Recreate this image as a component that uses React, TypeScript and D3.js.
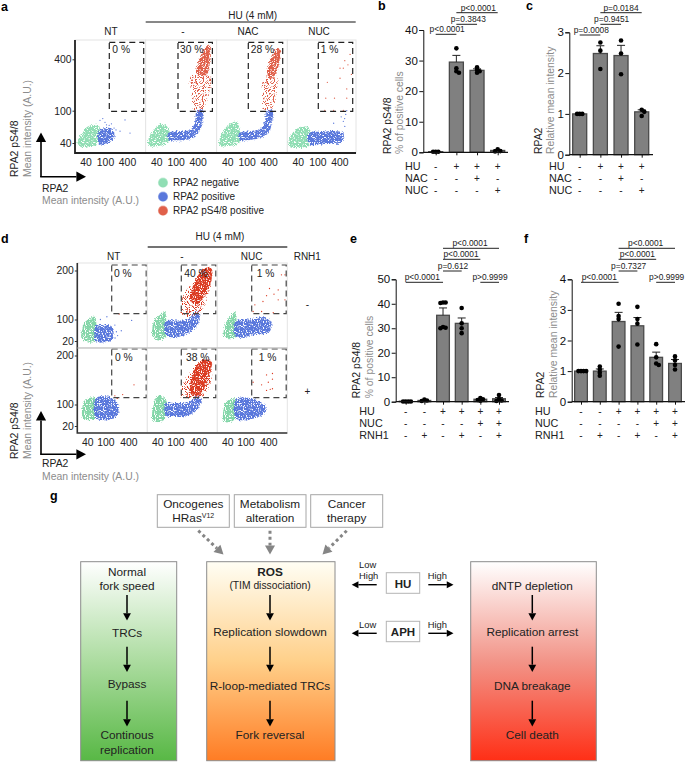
import React, { useRef, useEffect } from 'react';
import * as d3 from 'd3';

type Pt = [number, number];

// ---------- flow panels: outlines of the clouds and single events, read in A.U. ----------
const xTicks = [40, 100, 400];
const aYTicks = [40, 100, 400];
const dYTicks = [20, 100, 200];

const aNtNeg: Pt[] = [[28.5,38],[27,42],[34,52],[43,63],[68,67],[76,65],[76,39],[47,36.5],[33,35.5]];
const aNtPos: Pt[] = [[76,56],[100,61],[145,61],[177,55],[165,44],[100,39],[76,39]];
const aNtPosDots: Pt[] = [[79,76],[100,72],[177,61],[258,56],[353,77],[484,53],[188,48],[110,67],[150,69],[90,80],[200,58],[130,66]];

const aHuNeg: Pt[] = [[27,39],[28.5,46],[39,61],[51,69],[71,61],[71,41],[43,36.5],[30,36.5]];
const aHuPos: Pt[] = [[71,53],[106,56],[245,58],[335,70],[378,100],[565,100],[540,70],[418,53],[310,46],[160,43.5],[71,44.5]];
const aHuRed: Pt[] = [[378,315],[515,460],[790,607],[910,553],[880,385],[710,266],[378,272]];
const aHuRedThin: Pt[] = [[275,250],[960,250],[790,145],[565,101],[335,101],[290,160]];

const aNacNeg: Pt[] = [[27,40],[31,52],[43,67],[62,73],[71,61],[71,40],[39,36.5],[28,36.5]];
const aNacPos: Pt[] = [[71,53],[125,56],[232,59],[315,74],[353,100],[515,100],[484,70],[400,53],[258,47],[125,43.5],[71,44.5]];
const aNacRed: Pt[] = [[378,303],[484,430],[710,553],[860,528],[790,370],[610,266],[400,230]];
const aNacRedThin: Pt[] = [[315,230],[710,240],[640,145],[484,101],[315,101],[280,145]];

const aNucNeg: Pt[] = [[25.5,41],[31,53],[45,63],[68,61.5],[68,37],[40,34.6],[28,36]];
const aNucPos: Pt[] = [[68,53],[137,55],[353,56],[515,53],[484,41],[188,39],[68,39]];
const aNucPosDots: Pt[] = [[640,100],[515,74],[450,84],[565,64],[280,70],[600,90],[560,80]];
const aNucRedDots: Pt[] = [[790,460],[565,385],[418,315],[515,315],[690,345],[860,266],[418,240],[188,215],[640,180],[170,140],[295,140],[640,140],[515,101],[280,101],[160,101]];

const dNtNeg: Pt[] = [[30,40],[36,85],[60,104],[62,100],[62,20],[42,18],[30,24]];
const dNtPos: Pt[] = [[62,66],[90,70],[147,59],[165,40],[147,21],[90,18],[62,20]];
const dNtPosDots: Pt[] = [[195,40],[262,43],[490,93],[178,66],[110,104],[78,100],[210,30],[180,25]];
const dNtRedDots: Pt[] = [[230,108]];

const dHuNeg: Pt[] = [[30.5,40],[35,93],[60,111],[62,104],[62,27],[46,21],[32,27]];
const dHuPos: Pt[] = [[62,93],[110,93],[218,100],[325,111],[430,111],[420,85],[255,40],[120,27],[62,31]];
const dHuRed: Pt[] = [[267,152],[360,180],[565,206],[890,205],[890,175],[565,140],[360,123],[240,132]];
const dHuRedThin: Pt[] = [[155,108],[178,143],[360,170],[890,175],[730,143],[430,108]];

const dNucNeg: Pt[] = [[33,36],[38.5,85],[60,111],[62,107],[62,27],[46,23],[35,27]];
const dNucPos: Pt[] = [[62,93],[120,100],[360,103],[490,74],[430,40],[155,31],[62,27]];
const dNucRedDots: Pt[] = [[890,188],[1100,188],[730,152],[430,155],[565,143],[360,140],[290,129],[730,132],[178,123],[160,112],[267,112],[540,110],[1100,132]];

const dRnhNtNeg: Pt[] = [[30.5,46],[33,102],[42,109],[62,109],[62,37],[42,31],[32,36]];
const dRnhNtPos: Pt[] = [[62,109],[110,112],[178,107],[232,74],[195,40],[110,31],[62,37]];
const dRnhNtRedDots: Pt[] = [[565,132],[285,115],[178,113],[205,109]];

const dRnhHuNeg: Pt[] = [[30.5,46],[35,104],[42,113],[62,107],[62,40],[46,27],[32,31]];
const dRnhHuPos: Pt[] = [[62,102],[110,102],[240,104],[360,113],[490,109],[430,85],[240,46],[120,40],[62,44]];
const dRnhHuRed: Pt[] = [[240,125],[320,165],[540,188],[890,183],[790,155],[565,125],[360,112],[260,115]];
const dRnhHuRedThin: Pt[] = [[147,112],[193,143],[360,170],[830,188],[890,140],[515,112]];

const dRnhNucNeg: Pt[] = [[32,46],[38.5,104],[60,109],[62,107],[62,36],[42,26],[33,31]];
const dRnhNucPos: Pt[] = [[62,107],[118,110],[240,104],[360,74],[290,46],[110,31],[62,36]];
const dRnhNucRedDots: Pt[] = [[515,155],[360,152],[515,143],[400,137],[267,132],[515,125],[450,124],[360,122],[160,137]];

const aPercents = ['0 %', '30 %', '28 %', '1 %'];
const dPercentsTop = ['0 %', '40 %', '1 %'];
const dPercentsBottom = ['0 %', '38 %', '1 %'];
const aConditions = ['NT', '-', 'NAC', 'NUC'];
const dConditions = ['NT', '-', 'NUC'];
const legendLabels = ['RPA2 negative', 'RPA2 positive', 'RPA2 pS4/8 positive'];

// ---------- bar panels ----------
const bMeans = [0.2, 29.5, 26.8, 0.6];
const bSem = [0.1, 2.2, 0.5, 0.3];
const bDots = [[0.2, 0.2, 0.2], [34, 27.5, 26.5, 26], [27.8, 27, 26.5, 26], [1, 0.4, 0.3]];
const bSigns = [['HU', '-', '+', '+', '+'], ['NAC', '-', '-', '+', '-'], ['NUC', '-', '-', '-', '+']];
const bP = ['p<0.0001', 'p=0.3843', 'p<0.0001'];

const cMeans = [1, 2.48, 2.43, 1.05];
const cSem = [0.01, 0.19, 0.25, 0.05];
const cDots = [[1, 1, 1], [2.75, 2.55, 2.1], [2.8, 2.48, 1.97], [1.1, 1.05, 0.95]];
const cP = ['p=0.0008', 'p=0.9451', 'p=0.0184'];

const eMeans = [0.2, 0.5, 35.3, 32, 1, 1.2];
const eSem = [0.05, 0.2, 3, 2.2, 0.3, 0.5];
const eDots = [[0.1, 0.1, 0.1, 0.1], [0.9, 0.5, 0.3], [40.5, 40.5, 40.3, 30.5, 30.2, 30], [38.3, 32, 30, 28], [1.5, 1, 0.7, 0.4], [2.7, 1, 0.5, 0.3]];
const eSigns = [['HU', '-', '-', '+', '+', '+', '+'], ['NUC', '-', '-', '-', '-', '+', '+'], ['RNH1', '-', '+', '-', '+', '-', '+']];
const eP = ['p<0.0001', 'p=0.612', 'p<0.0001', 'p<0.0001', 'p>0.9999'];

const fMeans = [1, 1, 2.62, 2.48, 1.45, 1.25];
const fSem = [0.01, 0.07, 0.3, 0.27, 0.17, 0.13];
const fDots = [[1, 1, 1, 1], [1.15, 1.05, 0.95, 0.85], [3.2, 2.8, 2.7, 1.8], [3.1, 2.7, 2.55, 1.87], [1.88, 1.45, 1.25, 1.2], [1.48, 1.35, 1.2, 1.05]];
const fP = ['p<0.0001', 'p=0.7327', 'p<0.0001', 'p<0.0001', 'p>0.9999'];

const FONT = '"Liberation Sans", Arial, sans-serif';
const DARK = '#222';
const GREY = '#8c8c8c';
const NEG = '#90deb4';
const POS = '#5a78dc';
const RED_A = '#e0604a';
const RED_D = '#db3b22';

const App = () => {
  const svgRef = useRef<SVGSVGElement>(null);

  useEffect(() => {
    const svg = d3.select(svgRef.current);
    svg.selectAll('*').remove();
    const defs = svg.append('defs');

    // grain for the cloud fills, so they read as dots and not as flat shapes
    const grain = (id: string, gain: number, offset: number) => {
      const f = defs.append('filter').attr('id', id)
        .attr('x', '-25%').attr('y', '-25%').attr('width', '150%').attr('height', '150%')
        .attr('color-interpolation-filters', 'sRGB');
      f.append('feTurbulence').attr('type', 'fractalNoise').attr('baseFrequency', 0.85)
        .attr('numOctaves', 2).attr('seed', 4).attr('result', 'n');
      f.append('feDisplacementMap').attr('in', 'SourceGraphic').attr('in2', 'n')
        .attr('scale', 5).attr('xChannelSelector', 'R').attr('yChannelSelector', 'G').attr('result', 'd');
      f.append('feColorMatrix').attr('in', 'n').attr('type', 'matrix')
        .attr('values', `0 0 0 0 0  0 0 0 0 0  0 0 0 0 0  ${gain} 0 0 0 ${offset}`).attr('result', 'm');
      f.append('feComposite').attr('in', 'd').attr('in2', 'm').attr('operator', 'in').attr('result', 'c');
      f.append('feGaussianBlur').attr('in', 'c').attr('stdDeviation', 0.35);
    };
    grain('dense', 7, -2.2);
    grain('thin', 14, -7.4);

    const gradient = (id: string, stops: string[]) => {
      const g = defs.append('linearGradient').attr('id', id).attr('x1', 0).attr('y1', 0).attr('x2', 0).attr('y2', 1);
      stops.forEach((c, i) => g.append('stop').attr('offset', `${(i / (stops.length - 1)) * 100}%`).attr('stop-color', c));
    };
    gradient('gGreen', ['#ffffff', '#acdca0', '#58b845']);
    gradient('gOrange', ['#fffef4', '#ffd08a', '#ff7c24']);
    gradient('gRed', ['#ffffff', '#f29488', '#ff2f16']);

    const text = (sel: any, x: number, y: number, s: string, o: any = {}) =>
      sel.append('text').attr('x', x).attr('y', y)
        .attr('font-family', FONT).attr('font-size', o.size ?? 10)
        .attr('font-weight', o.bold ? 700 : 400)
        .attr('fill', o.fill ?? DARK)
        .attr('text-anchor', o.anchor ?? 'start')
        .text(s);

    const vText = (x: number, y: number, s: string, fill = DARK) =>
      svg.append('text').attr('transform', `translate(${x},${y}) rotate(-90)`)
        .attr('font-family', FONT).attr('font-size', 10.4).attr('fill', fill).text(s);

    const arrow = (x1: number, y1: number, x2: number, y2: number, w = 1.5, head = 5) => {
      const a = Math.atan2(y2 - y1, x2 - x1);
      const bx = x2 - Math.cos(a) * head * 1.6;
      const by = y2 - Math.sin(a) * head * 1.6;
      svg.append('line').attr('x1', x1).attr('y1', y1).attr('x2', bx).attr('y2', by)
        .attr('stroke', 'black').attr('stroke-width', w);
      const nx = -Math.sin(a) * head * 0.85;
      const ny = Math.cos(a) * head * 0.85;
      svg.append('path').attr('d', `M${x2},${y2}L${bx + nx},${by + ny}L${bx - nx},${by - ny}Z`).attr('fill', 'black');
    };

    ['a', 'b', 'c', 'd', 'e', 'f', 'g'].forEach((l, i) => {
      const pos = [[1, 11], [378, 10], [526, 10], [1, 243], [350, 243], [524, 243], [50, 500]][i];
      text(svg, pos[0], pos[1], l, { size: 12.5, bold: true, fill: '#000' });
    });

    // ---------- flow cytometry panels ----------
    const cloudLine = (x: any, y: any) =>
      d3.line<Pt>().x((d) => x(d[0])).y((d) => y(d[1])).curve(d3.curveCatmullRomClosed.alpha(0.5));

    const flowPanel = (px: number, py: number, w: number, h: number, x: any, y: any, o: any) => {
      const g = svg.append('g').attr('transform', `translate(${px},${py})`);
      const frameY = o.frameY ?? 0;
      g.append('rect').attr('y', frameY).attr('width', w).attr('height', h - frameY).attr('fill', 'white')
        .attr('stroke', '#e4e4e4').attr('stroke-width', 1);
      const line = cloudLine(x, y);
      const cloud = (pts: Pt[], color: string, f: string) =>
        g.append('path').attr('d', line(pts)).attr('fill', color).attr('filter', `url(#${f})`);
      const dots = (pts: Pt[], color: string) =>
        g.selectAll(null).data(pts).enter().append('circle')
          .attr('cx', (d: Pt) => x(d[0])).attr('cy', (d: Pt) => y(d[1])).attr('r', 0.65).attr('fill', color);
      cloud(o.neg, o.negColor ?? NEG, 'dense');
      cloud(o.pos, POS, 'dense');
      if (o.posDots) dots(o.posDots, POS);
      if (o.redThin) cloud(o.redThin, o.red, 'thin');
      if (o.redCloud) cloud(o.redCloud, o.red, 'dense');
      if (o.redDots) dots(o.redDots, o.red);
      g.append('rect').attr('x', o.gate[0]).attr('y', o.gate[1]).attr('width', o.gate[2]).attr('height', o.gate[3])
        .attr('fill', 'none').attr('stroke', o.gateColor).attr('stroke-width', 1.2).attr('stroke-dasharray', '6,4');
      text(g, o.pctX, o.pctY, o.pct, { size: 10.3 });
      return g;
    };

    const xAxis = (px: number, py: number, x: any) => {
      const g = svg.append('g').attr('transform', `translate(${px},${py})`)
        .call(d3.axisBottom(x).tickValues(xTicks).tickSize(0).tickPadding(6).tickFormat((d: any) => String(d)) as any);
      g.select('.domain').remove();
      g.selectAll('text').attr('font-family', FONT).attr('font-size', 10.4).attr('fill', DARK);
    };
    const yAxis = (px: number, py: number, y: any, ticks: number[]) => {
      const g = svg.append('g').attr('transform', `translate(${px},${py})`)
        .call(d3.axisLeft(y).tickValues(ticks).tickSize(2.5).tickPadding(1).tickFormat((d: any) => String(d)) as any);
      g.select('.domain').remove();
      g.selectAll('line').attr('stroke', '#333');
      g.selectAll('text').attr('font-family', FONT).attr('font-size', 10.4).attr('fill', DARK);
    };

    // panel a
    const aX = d3.scaleLog().domain([24, 40, 100, 400, 1250]).range([0, 10.5, 30, 52, 70]);
    const aY = d3.scaleLog().domain([30, 40, 100, 400, 697]).range([153, 143, 110.7, 59.3, 40]);
    const aStarts = [75, 145.67, 216.67, 287.33];
    const aOpts = [
      { neg: aNtNeg, pos: aNtPos, posDots: aNtPosDots },
      { neg: aHuNeg, pos: aHuPos, redCloud: aHuRed, redThin: aHuRedThin },
      { neg: aNacNeg, pos: aNacPos, redCloud: aNacRed, redThin: aNacRedThin },
      { neg: aNucNeg, pos: aNucPos, posDots: aNucPosDots, redDots: aNucRedDots },
    ];
    const aPctX = [112.3, 180, 250.7, 320.7];
    const aGateX = [109.3, 178, 248.3, 318.3];
    aOpts.forEach((o, i) => {
      flowPanel(aStarts[i], 0, i === 3 ? 68.7 : aStarts[i + 1] - aStarts[i], 153, aX, aY, {
        ...o,
        frameY: 40,
        red: RED_A,
        gate: [aGateX[i] - aStarts[i], 42.3, 34.4, 69],
        gateColor: '#222',
        pct: aPercents[i],
        pctX: aPctX[i] - aStarts[i],
        pctY: 53,
      });
      xAxis(aStarts[i], 153, aX);
      text(svg, [111, 183, 248, 319][i], 35, aConditions[i], { anchor: 'middle', size: 10 });
    });
    yAxis(75, 0, aY, aYTicks);
    svg.append('path').attr('d', 'M75,40V153H356').attr('fill', 'none').attr('stroke', '#222').attr('stroke-width', 1.8);
    svg.append('line').attr('x1', 145.7).attr('x2', 355.7).attr('y1', 22).attr('y2', 22).attr('stroke', '#111').attr('stroke-width', 1);
    text(svg, 252.7, 18.5, 'HU (4 mM)', { anchor: 'middle', size: 10 });

    arrow(41, 177, 41, 132.5, 1.6, 6);
    arrow(40.2, 176.7, 86, 176.7, 1.6, 6);
    vText(18, 177, 'RPA2 pS4/8');
    vText(30.5, 177, 'Mean intensity (A.U.)', GREY);
    text(svg, 42, 192, 'RPA2', { size: 10.4 });
    text(svg, 42, 204, 'Mean intensity (A.U.)', { size: 10.4, fill: GREY });

    legendLabels.forEach((l, i) => {
      const c = [NEG, POS, RED_A][i];
      svg.append('circle').attr('cx', 163).attr('cy', 182.7 + i * 14).attr('r', 4.5).attr('fill', c)
        .attr('stroke', c).attr('stroke-opacity', 0.5).attr('stroke-width', 1.2);
      text(svg, 173, 186.3 + i * 14, l, { size: 10 });
    });

    // panel d
    const dX = d3.scaleLog().domain([24, 40, 100, 400, 1268]).range([0, 10, 28, 51, 70]);
    const dY = d3.scaleLog().domain([12, 20, 100, 200, 222]).range([85, 78, 56.5, 7.5, 0]);
    const dStarts = [77.3, 147.3, 217.3];
    const dGateX = [111.7, 181.3, 251.7];
    const dRows = [
      { top: 263, pct: dPercentsTop, pctY: 276.7, gateY: 265, pctX: [114, 184.3, 256.7], panels: [
        { neg: dNtNeg, pos: dNtPos, posDots: dNtPosDots, redDots: dNtRedDots },
        { neg: dHuNeg, pos: dHuPos, redCloud: dHuRed, redThin: dHuRedThin },
        { neg: dNucNeg, pos: dNucPos, redDots: dNucRedDots },
      ] },
      { top: 348, pct: dPercentsBottom, pctY: 361, gateY: 349, pctX: [115, 186, 258.7], panels: [
        { neg: dRnhNtNeg, pos: dRnhNtPos, redDots: dRnhNtRedDots },
        { neg: dRnhHuNeg, pos: dRnhHuPos, redCloud: dRnhHuRed, redThin: dRnhHuRedThin },
        { neg: dRnhNucNeg, pos: dRnhNucPos, redDots: dRnhNucRedDots },
      ] },
    ];
    dRows.forEach((row) => {
      row.panels.forEach((o, i) => {
        flowPanel(dStarts[i], row.top, 70, 85, dX, dY, {
          ...o,
          negColor: '#83d6a8',
          red: RED_D,
          gate: [dGateX[i] - dStarts[i], row.gateY - row.top, 34.5, 48.7],
          gateColor: '#444',
          pct: row.pct[i],
          pctX: row.pctX[i] - dStarts[i],
          pctY: row.pctY - row.top,
        });
      });
      yAxis(77.3, row.top, dY, dYTicks);
    });
    dStarts.forEach((s, i) => {
      xAxis(s, 433, dX);
      text(svg, [113.7, 182, 251.7][i], 260, dConditions[i], { anchor: 'middle', size: 10 });
    });
    svg.append('path').attr('d', 'M77.3,263V433H287.3').attr('fill', 'none').attr('stroke', '#333').attr('stroke-width', 1.6);
    svg.append('line').attr('x1', 77.3).attr('x2', 287.3).attr('y1', 348).attr('y2', 348).attr('stroke', '#bbb').attr('stroke-width', 1);
    svg.append('line').attr('x1', 147.7).attr('x2', 287.3).attr('y1', 247).attr('y2', 247).attr('stroke', '#444').attr('stroke-width', 1.4);
    text(svg, 220, 240.3, 'HU (4 mM)', { anchor: 'middle', size: 10 });
    text(svg, 307.3, 260, 'RNH1', { anchor: 'middle', size: 10 });
    text(svg, 307.3, 308, '-', { anchor: 'middle', size: 10 });
    text(svg, 307.3, 395, '+', { anchor: 'middle', size: 10 });

    arrow(41, 454.5, 41, 411, 1.6, 6);
    arrow(40.2, 454.3, 86, 454.3, 1.6, 6);
    vText(18, 459, 'RPA2 pS4/8');
    vText(30.7, 459, 'Mean intensity (A.U.)', GREY);
    text(svg, 42, 467, 'RPA2', { size: 10.4 });
    text(svg, 42, 480, 'Mean intensity (A.U.)', { size: 10.4, fill: GREY });

    // ---------- bar panels ----------
    const barPanel = (o: any) => {
      const n = o.means.length;
      const x = d3.scalePoint<number>().domain(d3.range(n)).range(o.xRange);
      const y = d3.scaleLinear().domain([0, o.max]).range([o.y0, o.y1]);
      const g = svg.append('g');

      g.selectAll('rect').data(o.means).enter().append('rect')
        .attr('x', (_: any, i: number) => x(i)! - o.barW / 2)
        .attr('y', (d: number) => y(d))
        .attr('width', o.barW)
        .attr('height', (d: number) => Math.max(0, o.y0 - y(d)))
        .attr('fill', '#808080').attr('stroke', '#4a4a4a').attr('stroke-width', 1.3);

      o.means.forEach((m: number, i: number) => {
        const top = y(m + o.sem[i]);
        const cx = x(i)!;
        g.append('path').attr('d', `M${cx},${y(m)}V${top}M${cx - 4},${top}H${cx + 4}`)
          .attr('stroke', '#222').attr('stroke-width', 1).attr('fill', 'none');
        // spread dots sideways when they would sit on each other
        const placed: Pt[] = [];
        o.dots[i].forEach((v: number) => {
          const cy = y(v);
          const shift = [0, 2.6, -2.6, 5.2, -5.2, 7.8, -7.8].find((s) =>
            placed.every((p) => Math.hypot(p[0] - s, p[1] - cy) > 2.4)) ?? 0;
          placed.push([shift, cy]);
          g.append('circle').attr('cx', cx + shift).attr('cy', cy).attr('r', 2.3).attr('fill', '#000');
        });
      });

      const ya = g.append('g').attr('transform', `translate(${o.axisX},0)`)
        .call(d3.axisLeft(y).ticks(o.ticks).tickSize(4).tickPadding(1.5) as any);
      ya.selectAll('text').attr('font-family', FONT).attr('font-size', 11.5).attr('fill', '#111');
      ya.selectAll('line,path').attr('stroke', '#111').attr('stroke-width', 1);
      const xa = g.append('g').attr('transform', `translate(0,${o.y0})`)
        .call(d3.axisBottom(x).tickSize(3).tickFormat(() => '') as any);
      xa.select('.domain').remove();
      xa.selectAll('line').attr('stroke', '#111');
      g.append('line').attr('x1', o.axisX).attr('x2', o.axisEnd).attr('y1', o.y0).attr('y2', o.y0)
        .attr('stroke', '#111').attr('stroke-width', 1.3);

      o.signs.forEach((row: string[], r: number) => {
        text(svg, o.labelX, o.signY[r], row[0], { size: 10.8 });
        row.slice(1).forEach((s, i) => text(svg, x(i)!, o.signY[r], s, { size: 10, anchor: 'middle' }));
      });

      o.brackets.forEach((b: any, i: number) => {
        svg.append('line').attr('x1', x(b[0])!).attr('x2', x(b[1])!).attr('y1', b[2]).attr('y2', b[2])
          .attr('stroke', '#222').attr('stroke-width', 1);
        text(svg, b[3], b[2] - 2.2, o.p[i], { size: 8.4, anchor: 'middle' });
      });
    };

    const bcSignY = [170, 182, 194];
    barPanel({
      means: bMeans, sem: bSem, dots: bDots, signs: bSigns, p: bP,
      xRange: [435.7, 497.7], barW: 14, max: 40, ticks: 4, y0: 152.3, y1: 30,
      axisX: 423.3, axisEnd: 508, labelX: 405, signY: bcSignY,
      brackets: [[0, 1, 34.3, 447.2], [1, 2, 24.3, 468.3], [1, 3, 12.7, 478.3]],
    });
    barPanel({
      means: cMeans, sem: cSem, dots: cDots, signs: bSigns, p: cP,
      xRange: [579.7, 641.7], barW: 14, max: 3, ticks: 3, y0: 154.7, y1: 32.3,
      axisX: 569.3, axisEnd: 653, labelX: 549, signY: bcSignY,
      brackets: [[0, 1, 35, 591.3], [1, 2, 24.3, 611.7], [1, 3, 12.7, 621]],
    });
    const efSignY = [415, 427, 438.5];
    barPanel({
      means: eMeans, sem: eSem, dots: eDots, signs: eSigns, p: eP,
      xRange: [405.7, 499], barW: 12.7, max: 50, ticks: 5, y0: 401.7, y1: 279.3,
      axisX: 395.7, axisEnd: 509, labelX: 359.3, signY: efSignY,
      brackets: [[0, 2, 282.3, 422.3], [2, 3, 271, 453], [2, 4, 259.3, 461], [2, 5, 248.3, 470], [4, 5, 282.3, 490]],
    });
    barPanel({
      means: fMeans, sem: fSem, dots: fDots, signs: eSigns, p: fP,
      xRange: [581, 675], barW: 12.7, max: 4, ticks: 4, y0: 401.7, y1: 279.3,
      axisX: 571.7, axisEnd: 685, labelX: 535, signY: efSignY,
      brackets: [[0, 2, 282.3, 599.3], [2, 3, 271, 628.7], [2, 4, 259.3, 637.3], [2, 5, 248.3, 645.7], [4, 5, 282.3, 666.7]],
    });
    vText(390.7, 154, 'RPA2 pS4/8');
    vText(403.3, 154, '% of positive cells', GREY);
    vText(542.3, 154, 'RPA2');
    vText(554.3, 154, 'Relative mean intensity', GREY);
    vText(360, 398.3, 'RPA2 pS4/8');
    vText(372.7, 398.3, '% of positive cells', GREY);
    vText(544, 398, 'RPA2');
    vText(556.7, 398, 'Relative mean intensity', GREY);

    // ---------- panel g ----------
    const box = (x0: number, y0: number, x1: number, y1: number, fill = 'white', stroke = '#a6a6a6') =>
      svg.append('rect').attr('x', x0).attr('y', y0).attr('width', x1 - x0).attr('height', y1 - y0)
        .attr('fill', fill).attr('stroke', stroke).attr('stroke-width', 1);

    box(157.3, 494.7, 229.3, 527.3);
    box(234.3, 494.7, 306, 527.3);
    box(310.7, 494.7, 382.7, 527.3);
    const sz = { size: 11.8, anchor: 'middle' };
    text(svg, 193.3, 507.5, 'Oncogenes', sz);
    const hras = text(svg, 193.3, 522, 'HRas', sz);
    hras.append('tspan').attr('font-size', 7).attr('dy', -4).text('V12');
    text(svg, 270, 507.5, 'Metabolism', sz);
    text(svg, 270, 522, 'alteration', sz);
    text(svg, 346.7, 507.5, 'Cancer', sz);
    text(svg, 346.7, 522, 'therapy', sz);

    const dashedArrow = (x1: number, y1: number, x2: number, y2: number) => {
      const a = Math.atan2(y2 - y1, x2 - x1);
      const bx = x2 - Math.cos(a) * 9;
      const by = y2 - Math.sin(a) * 9;
      svg.append('line').attr('x1', x1).attr('y1', y1).attr('x2', bx).attr('y2', by)
        .attr('stroke', '#858585').attr('stroke-width', 3).attr('stroke-dasharray', '3,3');
      const nx = -Math.sin(a) * 5;
      const ny = Math.cos(a) * 5;
      svg.append('path').attr('d', `M${x2},${y2}L${bx + nx},${by + ny}L${bx - nx},${by - ny}Z`).attr('fill', '#858585');
    };
    dashedArrow(198.3, 530.7, 223.5, 554.5);
    dashedArrow(270, 530.7, 270, 554.5);
    dashedArrow(346.7, 530.7, 322.5, 554.5);

    box(80.7, 561.7, 176.7, 760.7, 'url(#gGreen)', '#8c8c8c');
    box(206.7, 561.7, 335, 760.7, 'url(#gOrange)', '#8c8c8c');
    box(470.7, 561.7, 596.3, 760.7, 'url(#gRed)', '#8c8c8c');

    const flowArrows = (x: number) => {
      arrow(x, 595, x, 620.5, 1.5, 4.6);
      arrow(x, 646.7, x, 672, 1.5, 4.6);
      arrow(x, 700.7, x, 726.5, 1.5, 4.6);
    };
    flowArrows(127);
    flowArrows(270);
    flowArrows(532.3);

    text(svg, 127, 575.5, 'Normal', sz);
    text(svg, 127, 590, 'fork speed', sz);
    text(svg, 127, 636.5, 'TRCs', sz);
    text(svg, 127, 688, 'Bypass', sz);
    text(svg, 127, 739, 'Continous', sz);
    text(svg, 127, 753.5, 'replication', sz);

    text(svg, 270, 576, 'ROS', { ...sz, bold: true });
    text(svg, 270, 589, '(TIM dissociation)', { size: 10.3, anchor: 'middle' });
    text(svg, 270, 636.3, 'Replication slowdown', sz);
    text(svg, 270, 690, 'R-loop-mediated TRCs', sz);
    text(svg, 270, 739, 'Fork reversal', sz);

    text(svg, 532.3, 590, 'dNTP depletion', sz);
    text(svg, 532.3, 636.3, 'Replication arrest', sz);
    text(svg, 532.3, 690, 'DNA breakage', sz);
    text(svg, 532.3, 739, 'Cell death', sz);

    box(386.3, 572.7, 419.7, 593.3, 'white', '#b5b5b5');
    box(386.3, 621.3, 419.7, 641.7, 'white', '#b5b5b5');
    text(svg, 403, 587.5, 'HU', { size: 11.5, bold: true, anchor: 'middle' });
    text(svg, 403, 636, 'APH', { size: 11.5, bold: true, anchor: 'middle' });
    [584.7, 633.3].forEach((yy) => {
      arrow(376.7, yy, 351.7, yy, 1.4, 4.2);
      arrow(428.3, yy, 453.5, yy, 1.4, 4.2);
    });
    const small = { size: 9.4, anchor: 'middle' };
    text(svg, 367.7, 567.5, 'Low', small);
    text(svg, 368.7, 578.8, 'High', small);
    text(svg, 437.3, 578.8, 'High', small);
    text(svg, 367.7, 628, 'Low', small);
    text(svg, 437.3, 628, 'High', small);
  }, []);

  return <svg ref={svgRef} width={685} height={762} style={{ position: 'absolute', left: 0, top: 0 }}></svg>;
};

export default App;
